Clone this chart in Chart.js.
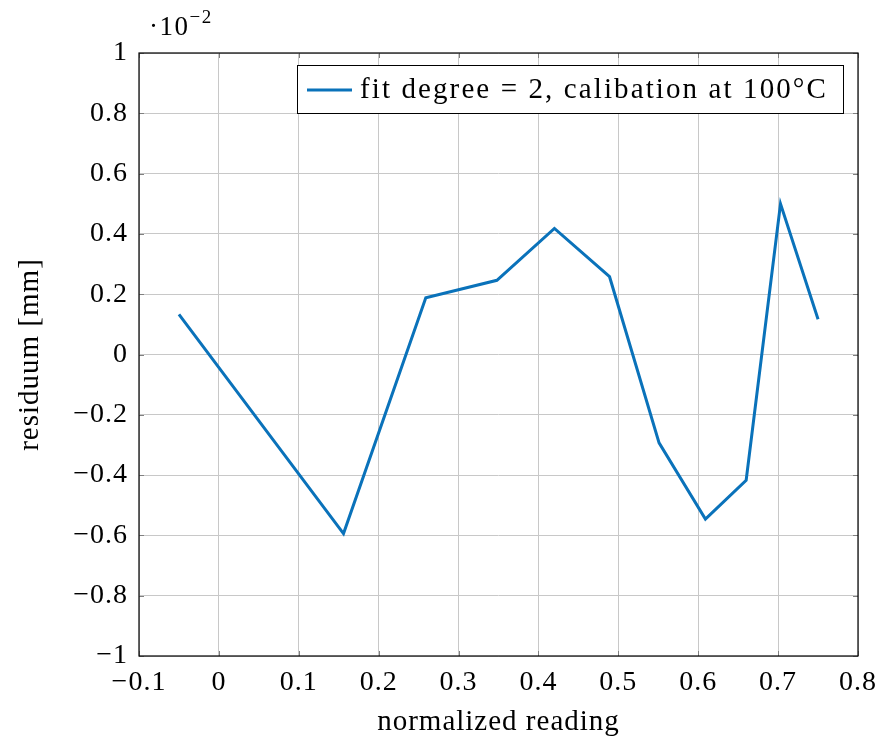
<!DOCTYPE html>
<html>
<head>
<meta charset="utf-8">
<script src="https://cdn.jsdelivr.net/npm/chart.js@4/dist/chart.umd.min.js"></script>
<style>
  html, body { margin: 0; padding: 0; background: #fff; }
  #wrap { width: 880px; height: 745px; }
</style>
</head>
<body>
<div id="wrap"><canvas id="myChart" width="880" height="745"></canvas></div>
<script>
// readings and residuals (residual in units of 1e-2 mm)
const readings = [-0.05, 0.156, 0.259, 0.348, 0.420, 0.489, 0.551, 0.609, 0.660, 0.703, 0.750];
const residuals = [0.133, -0.594, 0.188, 0.246, 0.418, 0.258, -0.293, -0.546, -0.417, 0.500, 0.117];
const xTicks = [-0.1, 0, 0.1, 0.2, 0.3, 0.4, 0.5, 0.6, 0.7, 0.8];
const yTicks = [-1, -0.8, -0.6, -0.4, -0.2, 0, 0.2, 0.4, 0.6, 0.8, 1];
const seriesLabel = 'fit degree = 2, calibation at 100°C';

const FONT = "'Liberation Serif', 'DejaVu Serif', serif";
const SPACING = '1px';   // a little wider set, closer to the latex look
const lineColor = '#0a72ba';

// latex style minus sign
function fmt(v) {
  const s = String(Math.round(v * 10) / 10);
  return s.replace('-', '\u2212');
}

// letter spacing has to be set again whenever the canvas state is reset
const spacing = {
  id: 'spacing',
  beforeUpdate(chart) { chart.ctx.letterSpacing = SPACING; },
  beforeDraw(chart) { chart.ctx.letterSpacing = SPACING; }
};

// frame, inner tick marks, exponent label and legend box
const decor = {
  id: 'decor',
  afterDatasetsDraw(chart) {
    const { ctx, chartArea: a, scales } = chart;
    ctx.save();
    // small tick marks inside the frame
    ctx.strokeStyle = '#808080';
    ctx.lineWidth = 1;
    ctx.beginPath();
    xTicks.forEach(t => {
      const x = Math.round(scales.x.getPixelForValue(t)) + 0.5;
      ctx.moveTo(x, a.bottom); ctx.lineTo(x, a.bottom - 5);
      ctx.moveTo(x, a.top); ctx.lineTo(x, a.top + 5);
    });
    yTicks.forEach(t => {
      const y = Math.round(scales.y.getPixelForValue(t)) + 0.5;
      ctx.moveTo(a.left, y); ctx.lineTo(a.left + 5, y);
      ctx.moveTo(a.right, y); ctx.lineTo(a.right - 5, y);
    });
    ctx.stroke();
    // frame
    ctx.strokeStyle = '#000';
    ctx.lineWidth = 1.2;
    ctx.strokeRect(a.left, a.top, a.right - a.left, a.bottom - a.top);

    // exponent label
    ctx.fillStyle = '#000';
    ctx.textBaseline = 'alphabetic';
    ctx.textAlign = 'left';
    ctx.letterSpacing = '1.5px';
    ctx.font = '27px ' + FONT;
    ctx.fillText('\u00b710', 149, 35);
    const w = ctx.measureText('\u00b710').width;
    ctx.font = '19px ' + FONT;
    ctx.fillText('\u22122', 149 + w, 23);

    // legend
    const lx = 297, ly = 65, lw = 546, lh = 48;
    ctx.fillStyle = '#fff';
    ctx.fillRect(lx, ly, lw, lh);
    ctx.strokeStyle = '#000';
    ctx.lineWidth = 1;
    ctx.strokeRect(lx + 0.5, ly + 0.5, lw, lh);
    ctx.strokeStyle = lineColor;
    ctx.lineWidth = 3;
    ctx.beginPath();
    ctx.moveTo(307, ly + lh / 2 + 1);
    ctx.lineTo(352, ly + lh / 2 + 1);
    ctx.stroke();
    ctx.fillStyle = '#000';
    ctx.font = '29px ' + FONT;
    ctx.letterSpacing = '0px';
    const plain = ctx.measureText(seriesLabel).width;
    ctx.letterSpacing = Math.max(0, (468 - plain) / seriesLabel.length) + 'px';
    ctx.textBaseline = 'middle';
    ctx.fillText(seriesLabel, 360, ly + lh / 2 + 1);
    ctx.restore();
  }
};

const dataConfig = {
  type: 'line',
  data: {
    datasets: [{
      label: seriesLabel,
      data: readings.map((x, i) => ({ x: x, y: residuals[i] })),
      borderColor: lineColor,
      borderWidth: 3,
      pointRadius: 0,
      fill: false,
      tension: 0
    }]
  },
  options: {
    responsive: false,
    animation: false,
    layout: { padding: { left: 0, top: 53, right: 22, bottom: 0 } },
    plugins: { legend: { display: false }, tooltip: { enabled: false } },
    scales: {
      x: {
        type: 'linear',
        min: -0.1,
        max: 0.8,
        afterBuildTicks: s => { s.ticks = xTicks.map(v => ({ value: v })); },
        afterFit: s => { s.height = 89; s.paddingLeft = 0; s.paddingRight = 0; },
        grid: { color: '#c8c8c8', lineWidth: 1, drawTicks: false },
        border: { display: false },
        ticks: {
          padding: 10,
          color: '#000',
          font: { family: FONT, size: 28 },
          callback: v => fmt(v)
        },
        title: {
          display: true,
          text: 'normalized reading',
          color: '#000',
          font: { family: FONT, size: 29 },
          padding: { top: 0, bottom: 5 }
        }
      },
      y: {
        type: 'linear',
        min: -1,
        max: 1,
        afterBuildTicks: s => { s.ticks = yTicks.map(v => ({ value: v })); },
        afterFit: s => { s.width = 139; s.paddingTop = 0; s.paddingBottom = 0; },
        grid: { color: '#c8c8c8', lineWidth: 1, drawTicks: false },
        border: { display: false },
        ticks: {
          padding: 11,
          color: '#000',
          font: { family: FONT, size: 28 },
          callback: v => fmt(v)
        },
        title: {
          display: true,
          text: 'residuum [mm]',
          color: '#000',
          font: { family: FONT, size: 29 },
          padding: { top: 13, bottom: 0 }
        }
      }
    }
  },
  plugins: [spacing, decor]
};

const ctx = document.getElementById('myChart');
new Chart(ctx, dataConfig);
</script>
</body>
</html>
